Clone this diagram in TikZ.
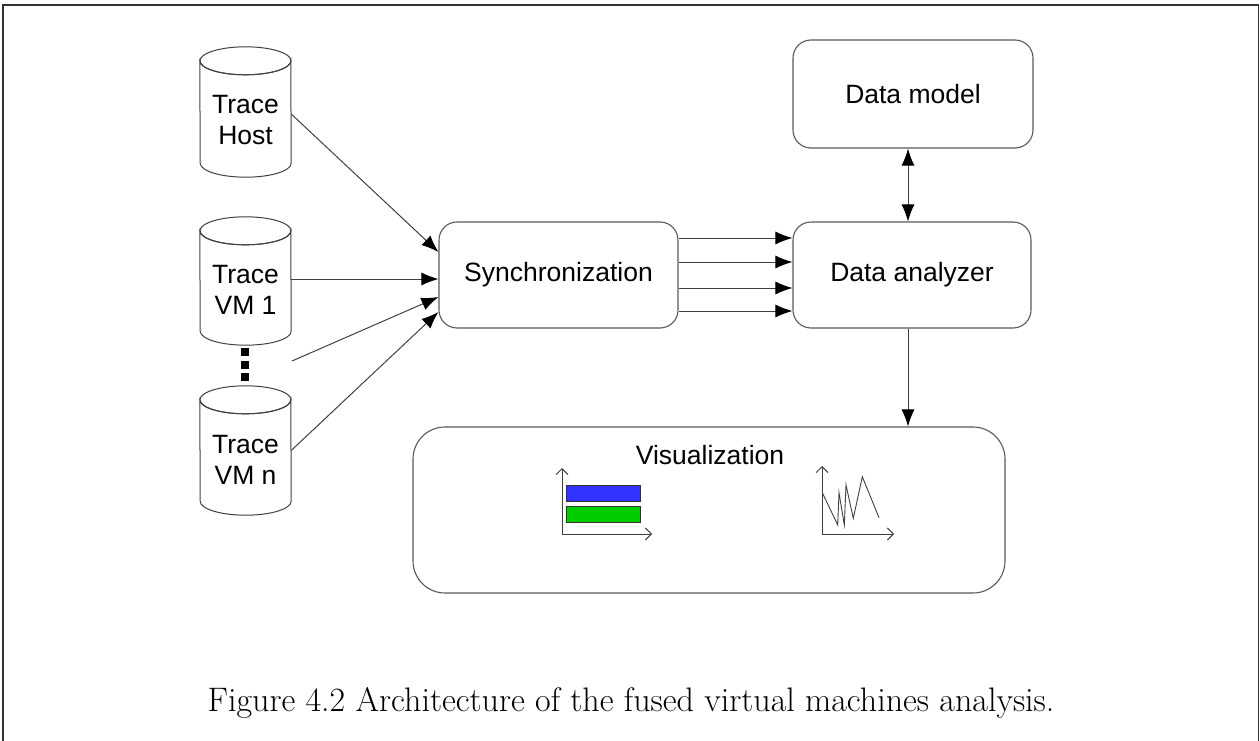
\documentclass[tikz,border=0pt]{standalone}
\usepackage{fontspec}
\newfontfamily\arialfont{Liberation Sans}
\usetikzlibrary{arrows.meta}

\begin{document}
\begin{tikzpicture}[x=1pt,y=-1pt,
  line/.style={draw=black!75, line width=1pt},
  box/.style={draw=black!65, line width=1.1pt, rounded corners=18pt, inner sep=0pt,
    font=\arialfont\fontsize{26.5}{31}\selectfont},
  lbl/.style={font=\arialfont\fontsize{26.5}{31}\selectfont, align=center, inner sep=0pt},
  tracecyl/.style={minimum width=91pt, inner sep=0pt},
  tip/.tip={Latex[length=17pt,width=13pt,color=black]},
  arr/.style={line, -tip},
  dblarr/.style={line, tip-tip},
  axis/.style={draw=black!75, line width=0.9pt, -{Straight Barb[length=6pt,width=12pt]}},
]
\useasboundingbox (0,0) rectangle (1260,741);

% page frame
\draw[black!80, line width=1.3pt] (3,741) -- (3,5) -- (1258.5,5) -- (1258.5,741);

% trace cylinders
\node[tracecyl, minimum height=130pt] (host) at (245.5,112) {};
\node[tracecyl, minimum height=128pt] (vm1)  at (245.5,281) {};
\node[tracecyl, minimum height=129pt] (vmn)  at (245.5,450.5) {};
\foreach \n in {host,vm1,vmn}{
  \draw[line] ([yshift=-14pt]\n.north west)
      arc[start angle=180, end angle=360, x radius=45.5pt, y radius=14pt]
      -- ([yshift=14pt]\n.south east)
      arc[start angle=0, end angle=-180, x radius=45.5pt, y radius=14pt]
      -- cycle;
  \draw[line] ([yshift=-14pt]\n.north) ellipse[x radius=45.5pt, y radius=14pt];
}
\node[lbl] (hostt) at ([yshift=-8pt]host.center) {Trace\\Host};
\node[lbl] (vm1t)  at ([yshift=-9pt]vm1.center) {Trace\\VM 1};
\node[lbl] (vmnt)  at ([yshift=-9pt]vmn.center) {Trace\\VM n};

% ellipsis between the VM traces
\fill (241,348) rectangle (249,356);
\fill (241,361) rectangle (249,369);
\fill (241,373) rectangle (249,381);
\coordinate (more) at (292,361);

% processing boxes
\node[box, minimum width=239pt, minimum height=106pt] (sync)  at (558.5,275) {Synchronization};
\node[box, minimum width=238pt, minimum height=106pt] (an)    at (912,275) {Data analyzer};
\node[box, minimum width=240pt, minimum height=108pt] (model) at (913,94) {Data model};
\node[box, rounded corners=32pt, minimum width=592pt, minimum height=166pt] (viz) at (709,510) {};
\node[lbl] (vizt) at (710,455) {Visualization};

% traces into synchronization
\draw[arr] ([yshift=-2pt]host.east) -- ([yshift=23pt]sync.west);
\draw[arr] ([yshift=2pt]vm1.east) -- ([yshift=-4pt]sync.west);
\draw[arr] (more) -- ([yshift=-22pt]sync.west);
\draw[arr] (vmn.east) -- ([yshift=-37pt]sync.west);

% synchronized streams into the analyzer
\foreach \s in {37,13,-13,-36}
  \draw[arr] ([yshift=\s pt]sync.east) -- ([yshift=\s pt]an.west);

% analyzer links
\draw[dblarr] ([xshift=-5pt]model.south) -- ([xshift=-4pt]an.north);
\draw[arr] ([xshift=-4pt]an.south) -- ([xshift=-4pt]an.south |- viz.north);

% bar chart
\draw[axis] (562,534) -- (562,468);
\draw[axis] (562,534) -- (652,534);
\filldraw[fill={rgb,255:red,51;green,51;blue,255}, draw=black!80, line width=0.9pt] (566,485) rectangle (640,501);
\filldraw[fill={rgb,255:red,0;green,204;blue,0}, draw=black!80, line width=0.9pt] (566,506) rectangle (640,522);

% line chart
\draw[axis] (822,534) -- (822,466);
\draw[axis] (822,534) -- (894,534);
\draw[draw=black!75, line width=0.9pt] (822.3,492.7) -- (837.7,525) -- (839,492.7) -- (844.3,525)
  -- (846,485) -- (853.3,518.3) -- (862.3,476.7) -- (879,517.7);

% caption
\node[anchor=base, inner sep=0pt, font=\fontsize{34}{40}\selectfont] (cap) at (631,711)
  {Figure 4.2 Architecture of the fused virtual machines analysis.};
\end{tikzpicture}
\end{document}
